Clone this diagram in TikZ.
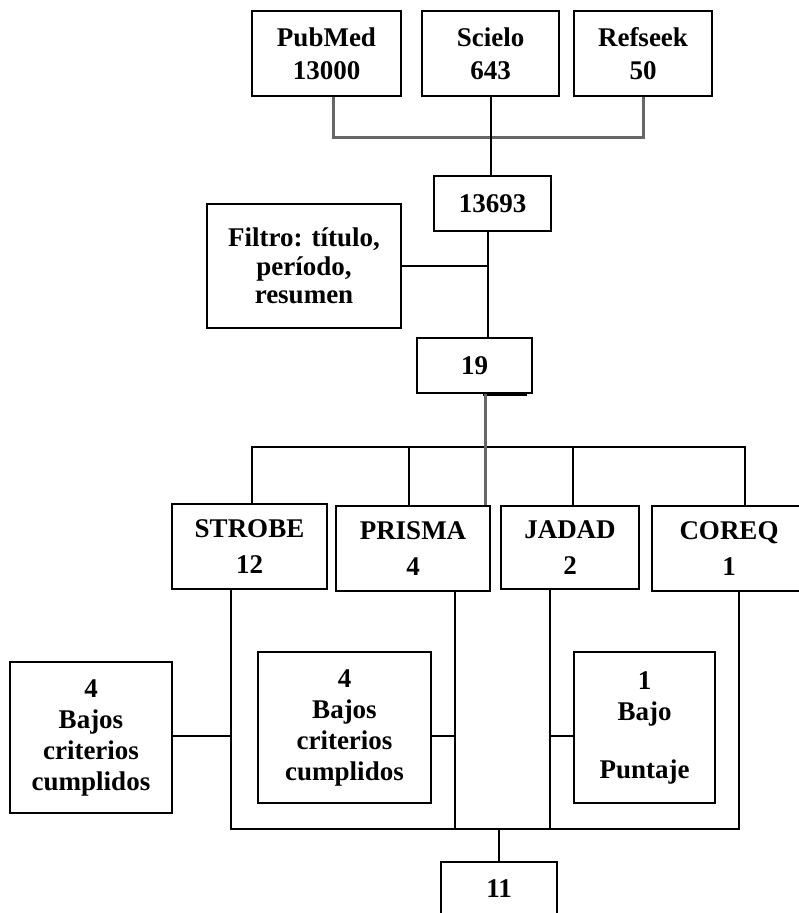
\documentclass[tikz,border=0pt]{standalone}
\usepackage{fontspec}
\setmainfont{Liberation Serif}

\tikzset{
  caja/.style={draw,line width=2pt,inner sep=0pt,align=center,
    font=\bfseries\fontsize{27}{31}\selectfont},
  interl/.style={font=\bfseries\fontsize{27}{#1}\selectfont},
  linea/.style={line width=2pt},
  gris/.style={draw=black!60,line width=3pt}
}

\begin{document}
\begin{tikzpicture}[x=1pt,y=-1pt]
	\clip (0,0) rectangle (799,913);
	% fuentes
	\node [caja,interl=33,minimum width=149pt,minimum height=85pt] (pubmed) at (326.5,53.5) {PubMed\\13000};
	\node [caja,interl=33,minimum width=137pt,minimum height=85pt] (scielo) at (490.5,53.5) {Scielo\\643};
	\node [caja,interl=33,minimum width=138pt,minimum height=85pt] (refseek) at (643,53.5) {Refseek\\50};
	\node [caja,minimum width=117pt,minimum height=55pt] (total) at (492.5,203.5) {13693};
	\node [caja,interl=28.5,minimum width=194pt,minimum height=124pt] (filtro) at (304,266) {Filtro: título,\\período,\\resumen};
	\node [caja,minimum width=115pt,minimum height=55pt] (n19) at (474.5,365.5) {19};
	% listas de chequeo
	\node [caja,interl=36,minimum width=155pt,minimum height=85pt] (strobe) at (249.5,546.5) {STROBE\\12};
	\node [caja,interl=36,minimum width=154pt,minimum height=85pt] (prisma) at (413,548.5) {PRISMA\\4};
	\node [caja,interl=36,minimum width=138pt,minimum height=83pt] (jadad) at (570,547.5) {JADAD\\2};
	\node [caja,interl=36,minimum width=154pt,minimum height=85pt] (coreq) at (729,548.5) {COREQ\\1};
	% excluidos
	\node [caja,minimum width=162pt,minimum height=151pt] (excl1) at (91,737.5) {4\\Bajos\\criterios\\cumplidos};
	\node [caja,minimum width=173pt,minimum height=151pt] (excl2) at (344.5,727.5) {4\\Bajos\\criterios\\cumplidos};
	\node [caja,minimum width=141pt,minimum height=151pt] (excl3) at (644.5,727.5) {1\\Bajo\\[27pt]Puntaje};
	\node [caja,minimum width=116pt,minimum height=54pt] (n11) at (499,889) {11};

	\coordinate (bus1) at (0,137);
	\coordinate (tronco) at (488,0);
	\coordinate (bus2) at (0,447);
	\coordinate (medio) at (0,736);
	\coordinate (base) at (0,829);
	\coordinate (vg) at ([xshift=72pt]prisma.north);
	\coordinate (vs) at ([xshift=-19pt]strobe.south);
	\coordinate (vp) at ([xshift=42pt]prisma.south);
	\coordinate (vj) at ([xshift=-20pt]jadad.south);
	\coordinate (vc) at ([xshift=10pt]coreq.south);

	\draw[gris] ([xshift=6.5pt]pubmed.south) |- (refseek.south |- bus1) -- (refseek.south);
	\draw[linea] (scielo.south) -- (scielo.south |- total.north);
	\draw[linea] (total.south -| tronco) -- (n19.north -| tronco);
	\draw[linea] (filtro.east) -- (filtro.east -| tronco);
	\draw[line width=3pt] ([xshift=8.5pt]n19.south) -- ([xshift=52.5pt]n19.south);

	\draw[linea] ([xshift=2.5pt]strobe.north) |- ([xshift=16pt]coreq.north |- bus2) -- ([xshift=16pt]coreq.north);
	\draw[linea] ([xshift=-4pt]prisma.north) -- ([xshift=-4pt]prisma.north |- bus2);
	\draw[linea] ([xshift=3pt]jadad.north) -- ([xshift=3pt]jadad.north |- bus2);
	\draw[gris] (n19.south -| vg) -- (vg);

	\draw[linea] (vs) |- (vc |- base) -- (vc);
	\draw[linea] (vp) -- (vp |- base);
	\draw[linea] (vj) -- (vj |- base);
	\draw[linea] (n11.north) -- (n11.north |- base);
	\draw[linea] (excl1.east |- medio) -- (vs |- medio);
	\draw[linea] (excl2.east |- medio) -- (vp |- medio);
	\draw[linea] (excl3.west |- medio) -- (vj |- medio);
\end{tikzpicture}
\end{document}
